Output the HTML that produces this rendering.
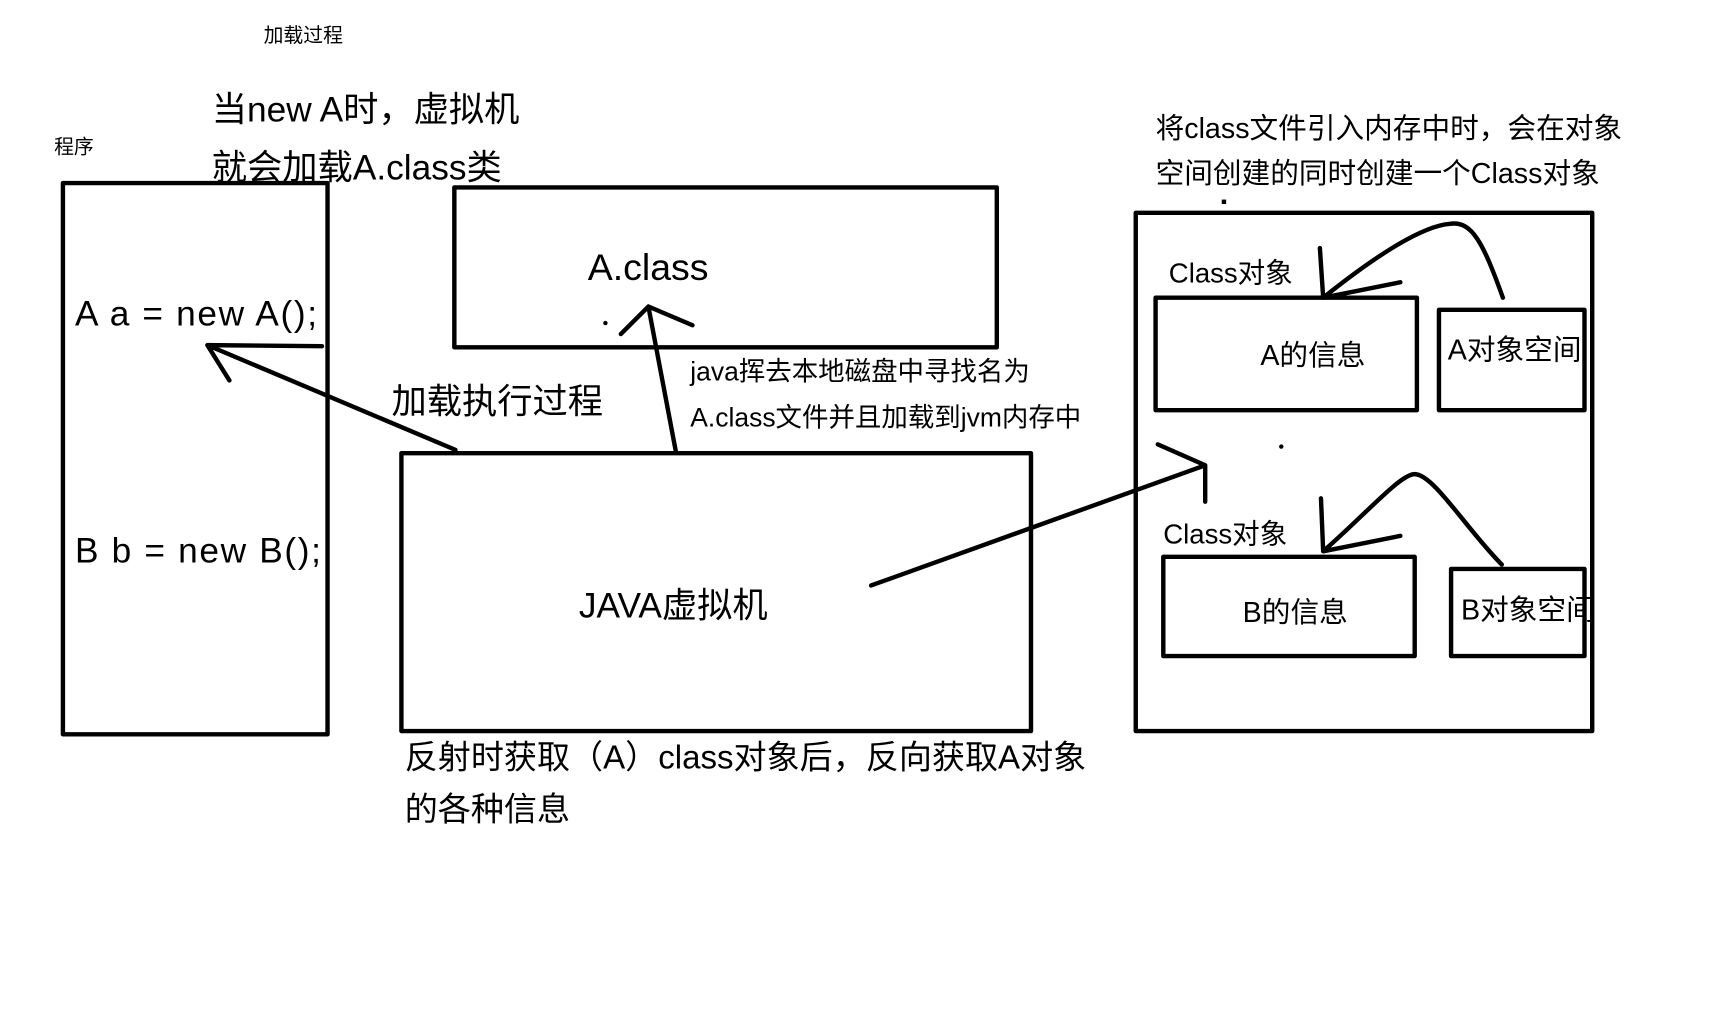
<!DOCTYPE html>
<html><head><meta charset="utf-8"><style>
html,body{margin:0;padding:0;background:#fff;}
svg{display:block;}
text{font-family:"Liberation Sans","Noto Sans CJK SC",sans-serif;fill:#000;}
</style></head><body>
<svg width="1729" height="1021" viewBox="0 0 1568 926" xmlns="http://www.w3.org/2000/svg">
<g fill="none" stroke="#000" stroke-width="4" stroke-linecap="round" stroke-linejoin="round">
<rect x="57" y="166" width="240" height="500"/>
<rect x="412" y="170" width="492" height="145"/>
<rect x="364" y="411" width="571" height="252"/>
<rect x="1030" y="193" width="414" height="470"/>
<rect x="1048" y="270" width="237" height="102"/>
<rect x="1305" y="281" width="132" height="91"/>
<rect x="1055" y="505" width="228" height="90"/>
<rect x="1316" y="516" width="121" height="79"/>
<path d="M613 410 L588 278 M563 303 L588 278 L628 295"/>
<path d="M413 408 L188 313 M208 345 L188 313 L292 314"/>
<path d="M790 531 L1093 422 M1050 403 L1093 422 L1093 455"/>
<path d="M1363 270 C1345 220 1335 200 1315 203 C1290 205 1250 230 1200 270 M1197 225 L1200 270 L1270 256"/>
<path d="M1362 512 C1330 480 1300 430 1283 430 C1270 430 1240 465 1200 500 M1198 452 L1200 500 L1270 486"/>
</g>
<circle cx="549" cy="293" r="2"/>
<rect x="1108" y="181" width="4" height="4"/>
<circle cx="1162" cy="405" r="2"/>
<text x="239" y="38" font-size="18">加载过程</text>
<text x="49" y="139" font-size="18">程序</text>
<text x="192" y="110" font-size="32">当new A时，虚拟机</text>
<text x="192" y="163" font-size="32">就会加载A.class类</text>
<text x="68" y="295" font-size="32" letter-spacing="1.5">A a = new A();</text>
<text x="68" y="510" font-size="32" letter-spacing="1.5">B b = new B();</text>
<text x="533" y="254" font-size="34">A.class</text>
<text x="355" y="375" font-size="32">加载执行过程</text>
<text x="626" y="345" font-size="24">java挥去本地磁盘中寻找名为</text>
<text x="626" y="387" font-size="24">A.class文件并且加载到jvm内存中</text>
<text x="525" y="560" font-size="32">JAVA虚拟机</text>
<text x="367" y="697" font-size="30">反射时获取（A）class对象后，反向获取A对象</text>
<text x="367" y="744" font-size="30">的各种信息</text>
<text x="1048" y="125" font-size="26">将class文件引入内存中时，会在对象</text>
<text x="1048" y="166" font-size="26">空间创建的同时创建一个Class对象</text>
<text x="1060" y="256" font-size="25">Class对象</text>
<text x="1143" y="331" font-size="26">A的信息</text>
<text x="1313" y="326" font-size="26">A对象空间</text>
<text x="1055" y="493" font-size="25">Class对象</text>
<text x="1127" y="564" font-size="26">B的信息</text>
<text x="1325" y="562" font-size="26">B对象空间</text>
</svg>
</body></html>
